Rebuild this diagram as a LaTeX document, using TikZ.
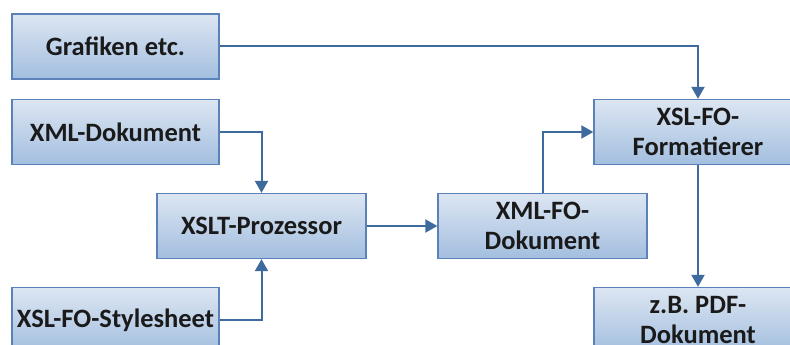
\documentclass[tikz,border=0pt]{standalone}
\usepackage{fontspec}
\setmainfont{Carlito}
\usepackage{xcolor}
\definecolor{boxline}{HTML}{5A82B8}
\definecolor{boxtop}{HTML}{DCE6F2}
\definecolor{boxbottom}{HTML}{A3BEDF}
\definecolor{flow}{HTML}{3F6A9E}
\definecolor{ink}{HTML}{1A1A1A}
\usetikzlibrary{arrows.meta,positioning,calc}

\begin{document}
\begin{tikzpicture}[
  x=1pt, y=-1pt,
  font=\fontsize{26.5}{30}\selectfont\bfseries,
  stage/.style={draw=boxline, line width=1.3pt, top color=boxtop,
    bottom color=boxbottom, rectangle, text=ink, align=center,
    minimum width=207pt, minimum height=65pt, inner sep=2pt},
  flowarrow/.style={-{Triangle[length=12pt,width=13pt]}, flow, line width=2pt}
]
\useasboundingbox (0,0) rectangle (790,345);

% inputs on the left
\node[stage] (graf) at (115.5,46.5) {Grafiken etc.};
\node[stage] (xmldoc) at (115.5,132) {XML-Dokument};
\node[stage] (style) at (115.5,320) {XSL-FO-Stylesheet};

% transformation and formatting
\node[stage, minimum width=209pt] (xslt) at (261.5,226) {XSLT-Prozessor};
\node[stage, minimum width=209pt] (xmlfo) at (542.5,226) {XML-FO-\\Dokument};
\node[stage, minimum width=208pt] (fmt) at (698,132) {XSL-FO-\\Formatierer};
\node[stage, minimum width=208pt] (pdf) at (698,320) {z.B. PDF-\\Dokument};

\draw[flowarrow] (graf.east) -| (fmt.north);
\draw[flowarrow] (xmldoc.east) -| (xslt.north);
\draw[flowarrow] (style.east) -| (xslt.south);
\draw[flowarrow] (xslt) -- (xmlfo);
\draw[flowarrow] (xmlfo.north) |- (fmt.west);
\draw[flowarrow] (fmt) -- (pdf);
\end{tikzpicture}
\end{document}
